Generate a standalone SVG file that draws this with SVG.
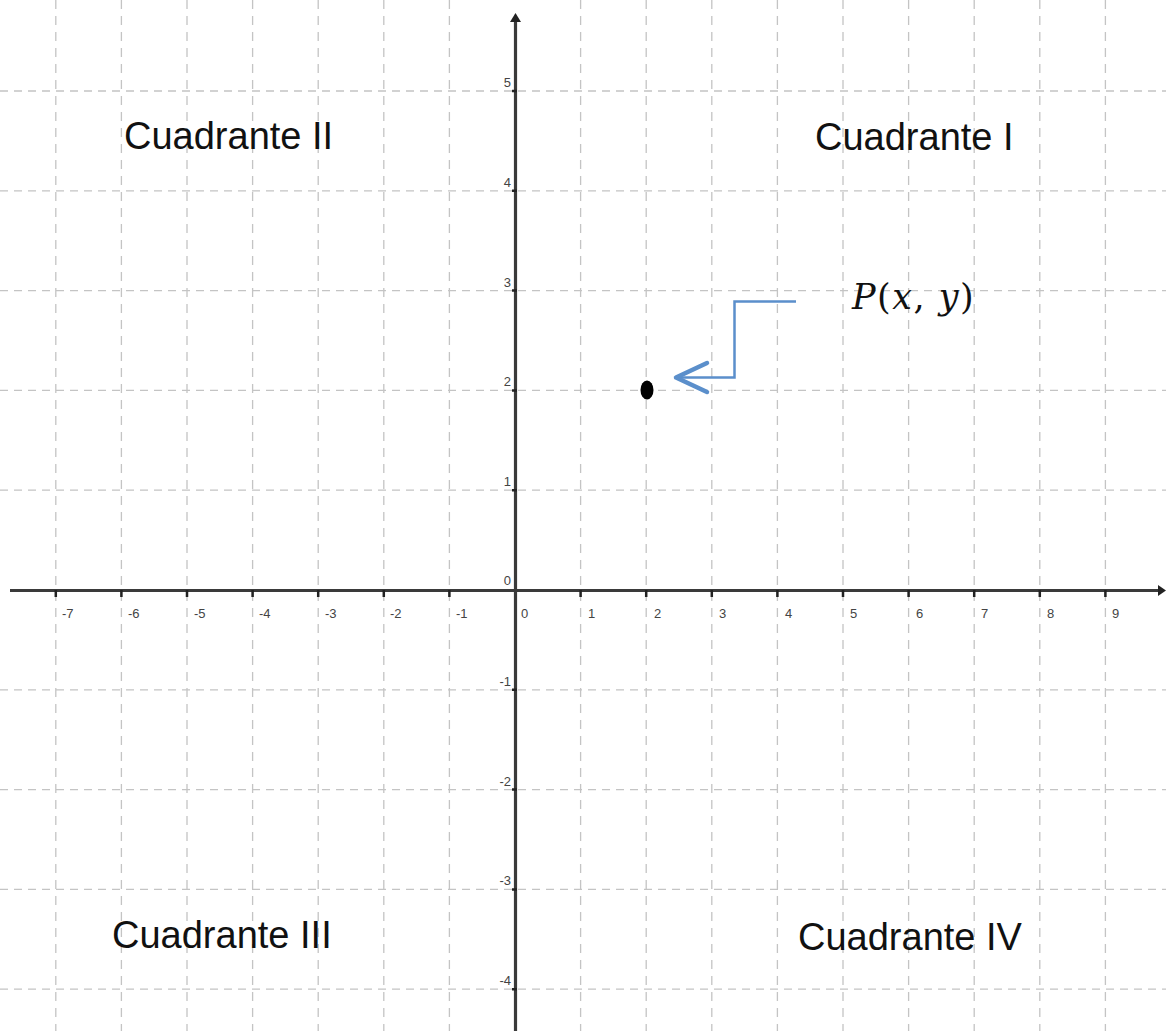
<svg xmlns="http://www.w3.org/2000/svg" width="1166" height="1031" viewBox="0 0 1166 1031">
<style>
.gridv{stroke:#c4c4c4;stroke-width:1.3;stroke-dasharray:9 7;fill:none}
.gridh{stroke:#c4c4c4;stroke-width:1.3;stroke-dasharray:8 6;fill:none}
.axis{stroke:#3a3a3a;stroke-width:3.2;fill:none}
.tick{stroke:#222;stroke-width:2.5}
.tl{font-family:"Liberation Sans",Arial,sans-serif;font-size:13px;fill:#444}
.tly{font-family:"Liberation Sans",Arial,sans-serif;font-size:13px;fill:#444;text-anchor:end}
.quad{font-family:"Liberation Sans",Arial,sans-serif;font-size:38px;fill:#111}
.math{font-family:"DejaVu Serif","Liberation Serif",serif;font-size:35px;letter-spacing:1.5px;fill:#111}
.ptr{stroke:#5b8fcb;fill:none;stroke-width:2.5}
.chev{stroke:#5b8fcb;fill:none;stroke-width:4.5;stroke-linecap:round;stroke-linejoin:round}
</style>
<rect width="1166" height="1031" fill="#ffffff"/>
<g id="grid">
<path class="gridv" d="M55.8 0V1031M121.4 0V1031M187 0V1031M252.6 0V1031M318.2 0V1031M383.8 0V1031M449.4 0V1031M580.6 0V1031M646.2 0V1031M711.8 0V1031M777.4 0V1031M843 0V1031M908.6 0V1031M974.2 0V1031M1039.8 0V1031M1105.4 0V1031"/>
<path class="gridh" d="M0 91H1166M0 190.8H1166M0 290.6H1166M0 390.4H1166M0 490.2H1166M0 689.8H1166M0 789.6H1166M0 889.4H1166M0 989.2H1166"/>
</g>
<g id="axes">
<line class="axis" x1="10" y1="590.5" x2="1160" y2="590.5"/>
<polygon points="1166,590.5 1158,585 1158,596" fill="#222"/>
<line class="axis" x1="515.5" y1="20" x2="515.5" y2="1031"/>
<polygon points="515.5,13 510,22 521,22" fill="#222"/>
<path class="tick" d="M55.8 590V597M121.4 590V597M187 590V597M252.6 590V597M318.2 590V597M383.8 590V597M449.4 590V597M580.6 590V597M646.2 590V597M711.8 590V597M777.4 590V597M843 590V597M908.6 590V597M974.2 590V597M1039.8 590V597M1105.4 590V597"/>
<path class="tick" d="M512 91H517M512 190.8H517M512 290.6H517M512 390.4H517M512 490.2H517M512 689.8H517M512 789.6H517M512 889.4H517M512 989.2H517"/>
</g>
<g id="x-labels">
<text class="tl" x="62" y="618">-7</text>
<text class="tl" x="128" y="618">-6</text>
<text class="tl" x="194" y="618">-5</text>
<text class="tl" x="259" y="618">-4</text>
<text class="tl" x="325" y="618">-3</text>
<text class="tl" x="390" y="618">-2</text>
<text class="tl" x="456" y="618">-1</text>
<text class="tl" x="521" y="618">0</text>
<text class="tl" x="588" y="618">1</text>
<text class="tl" x="654" y="618">2</text>
<text class="tl" x="719" y="618">3</text>
<text class="tl" x="785" y="618">4</text>
<text class="tl" x="850" y="618">5</text>
<text class="tl" x="916" y="618">6</text>
<text class="tl" x="981" y="618">7</text>
<text class="tl" x="1047" y="618">8</text>
<text class="tl" x="1112" y="618">9</text>
</g>
<g id="y-labels">
<text class="tly" x="511" y="87">5</text>
<text class="tly" x="511" y="187">4</text>
<text class="tly" x="511" y="287">3</text>
<text class="tly" x="511" y="386">2</text>
<text class="tly" x="511" y="486">1</text>
<text class="tly" x="511" y="585">0</text>
<text class="tly" x="511" y="686">-1</text>
<text class="tly" x="511" y="786">-2</text>
<text class="tly" x="511" y="885">-3</text>
<text class="tly" x="511" y="985">-4</text>
</g>
<g id="q1"><text class="quad" x="815" y="150">Cuadrante I</text></g>
<g id="q2"><text class="quad" x="124" y="149">Cuadrante II</text></g>
<g id="q3"><text class="quad" x="112" y="948">Cuadrante III</text></g>
<g id="q4"><text class="quad" x="798" y="950">Cuadrante IV</text></g>
<g id="point-P">
<ellipse cx="647" cy="390" rx="6.5" ry="9.5" fill="#000"/>
</g>
<g id="label-P">
<text class="math" x="852" y="309"><tspan font-style="italic">P</tspan>(<tspan font-style="italic">x</tspan>, <tspan font-style="italic">y</tspan>)</text>
</g>
<g id="connectors">
<polyline class="ptr" points="796,301.5 734.5,301.5 734.5,377.5 678,377.5"/>
<polyline class="chev" points="707,363 676,377.5 707,392"/>
</g>
</svg>
